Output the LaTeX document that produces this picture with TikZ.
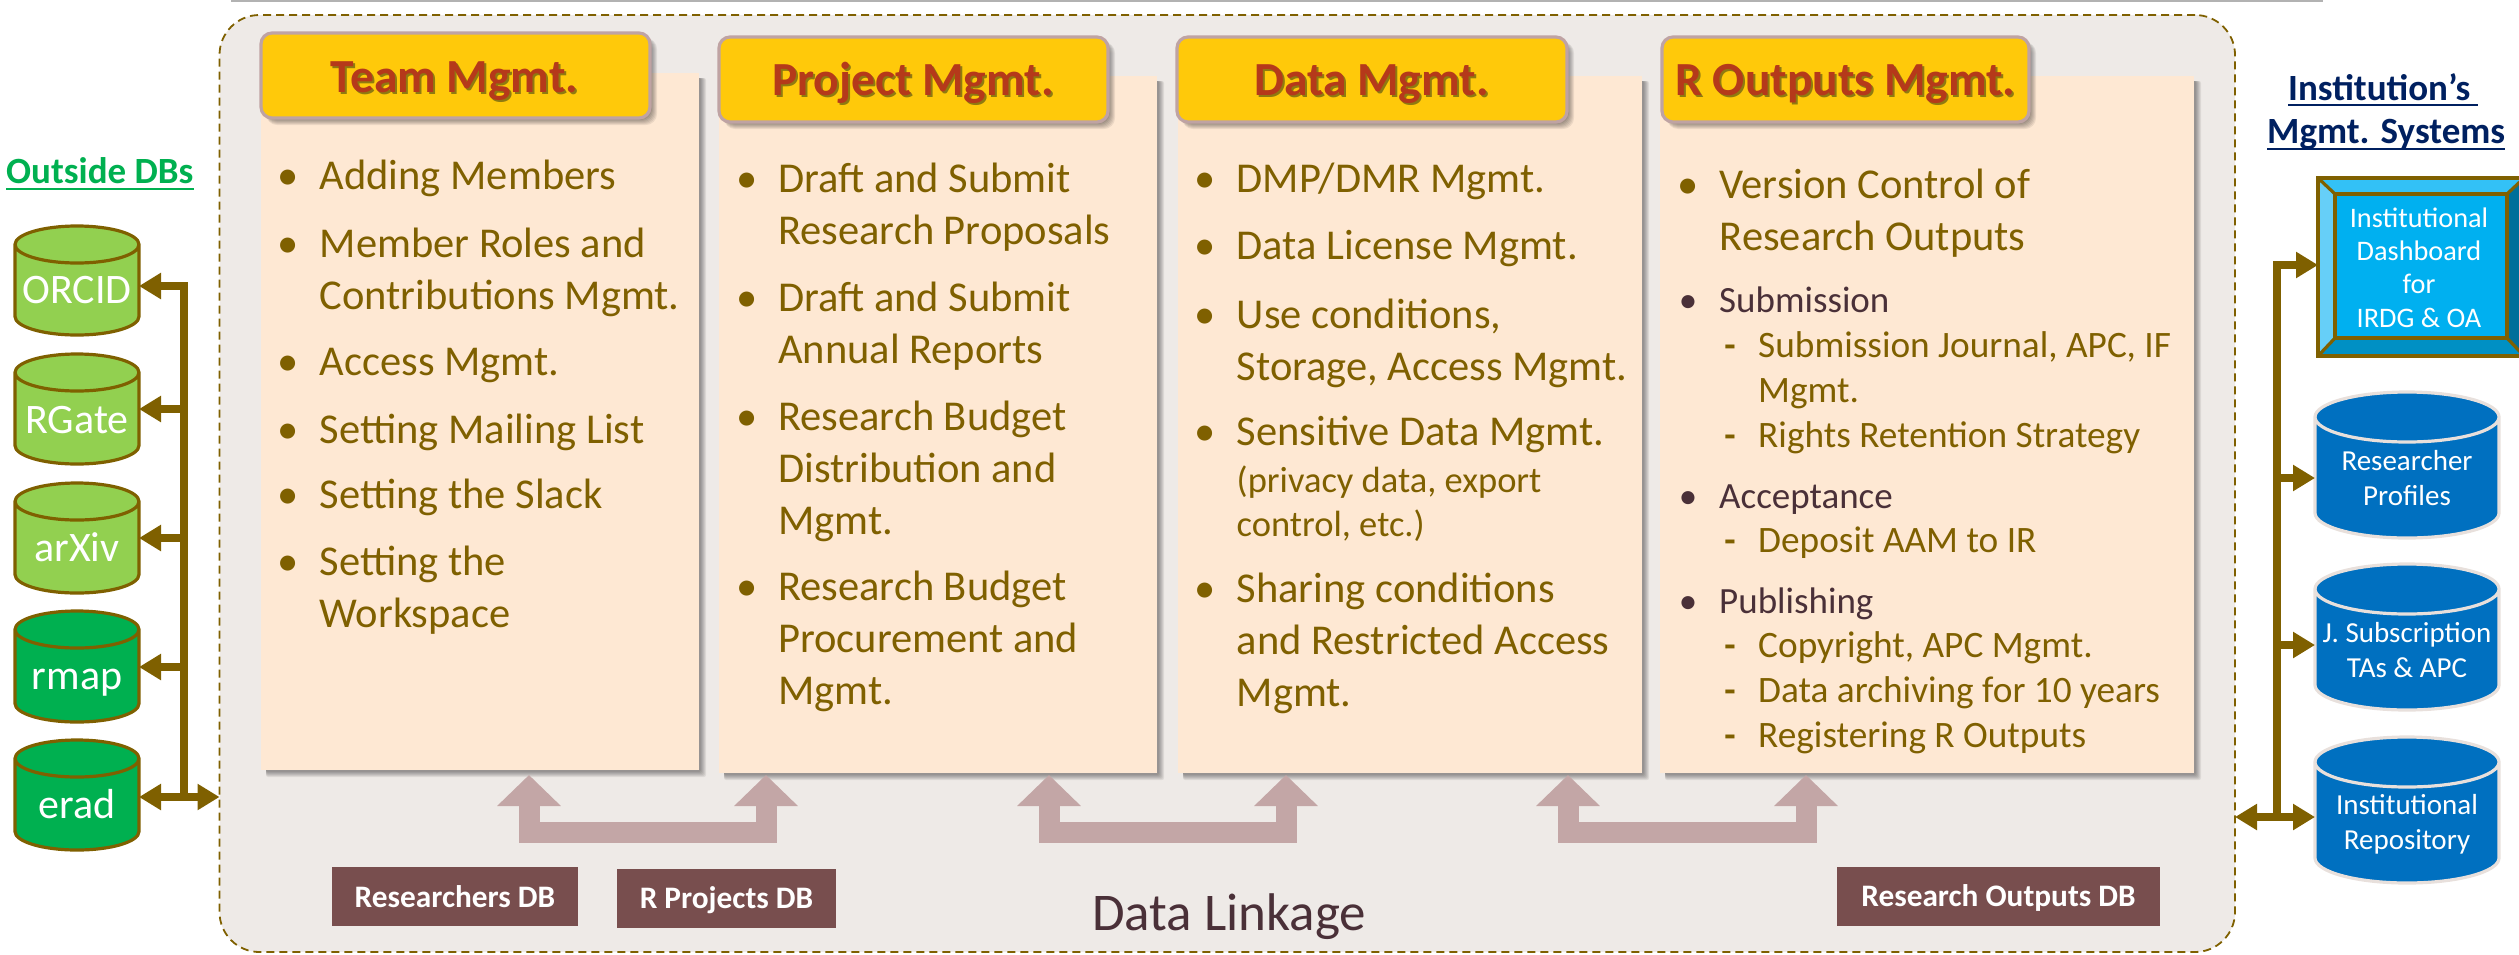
\documentclass[tikz,border=0pt]{standalone}
\usepackage{fontspec}
\setmainfont{Carlito}
\usetikzlibrary{arrows.meta}
\definecolor{olv}{HTML}{7F6000}
\definecolor{panelc}{HTML}{EEEAE7}
\definecolor{cardc}{HTML}{FEE8D3}
\definecolor{ttlc}{HTML}{FFC90A}
\definecolor{ttlb}{HTML}{BFA3A3}
\definecolor{ttlt}{HTML}{B5391A}
\definecolor{ttls}{HTML}{8F7A10}
\definecolor{dk}{HTML}{4A3038}
\definecolor{brn}{HTML}{784E4E}
\definecolor{lnk}{HTML}{C3A6A6}
\definecolor{lg}{HTML}{92D050}
\definecolor{dg}{HTML}{00B050}
\definecolor{blu}{HTML}{0070C0}
\definecolor{bluel}{HTML}{E8E0DC}
\definecolor{navy}{HTML}{002060}
\tikzset{
  panelbox/.style={draw=olv,fill=panelc,line width=1.8pt,dash pattern=on 8pt off 5pt,rounded corners=40pt,inner sep=0pt,outer sep=0pt,anchor=north west},
  cardbox/.style={fill=cardc,draw=none,inner sep=0pt,outer sep=0pt,anchor=north west},
  ttlbox/.style={fill=ttlc,draw=ttlb,line width=3.2pt,rounded corners=11pt,inner sep=0pt,outer sep=0pt,anchor=north west},
  ttltext/.style={text=ttlt,inner sep=0pt,anchor=base,font=\fontsize{47.5}{52}\selectfont\bfseries},
  ttlshade/.style={text=ttls,inner sep=0pt,anchor=base,font=\fontsize{47.5}{52}\selectfont\bfseries},
  big/.style={text=olv,inner sep=0pt,anchor=base west,font=\fontsize{42.5}{52}\selectfont},
  small/.style={text=olv,inner sep=0pt,anchor=base west,font=\fontsize{36.5}{44}\selectfont},
  head/.style={text=dk,inner sep=0pt,anchor=base west,font=\fontsize{37}{45}\selectfont},
  sub/.style={text=olv,inner sep=0pt,anchor=base west,font=\fontsize{37.3}{45}\selectfont},
  bullet/.style={inner sep=0pt,anchor=base},
  dashmark/.style={text=olv,inner sep=0pt,anchor=base,font=\fontsize{37}{45}\selectfont\bfseries},
  cyllabel/.style={text=white,inner sep=0pt,anchor=base,font=\fontsize{42}{50}\selectfont},
  syslabel/.style={text=white,inner sep=0pt,anchor=base,font=\fontsize{29}{35}\selectfont},
  dashlabel/.style={text=white,inner sep=0pt,anchor=base,font=\fontsize{28.3}{33.4}\selectfont},
  shapeonly/.style={inner sep=0pt,outer sep=0pt,anchor=north west},
  dbbox/.style={fill=brn,text=white,inner sep=0pt,outer sep=0pt,anchor=north west},
  dbtext/.style={text=white,inner sep=0pt,anchor=base,font=\fontsize{31.3}{36}\selectfont\bfseries},
  bus/.style={draw=olv,line width=8pt},
  busarrow/.style={draw=olv,line width=8pt,-{Triangle[length=22pt,width=25pt]}},
  linkarrow/.style={draw=lnk,line width=21pt,{Triangle[length=31pt,width=62pt]}-{Triangle[length=31pt,width=62pt]}},
}
\newcounter{tn}
% style, bullet x, text x, baseline, lines
\newcommand\bitem[5]{\stepcounter{tn}%
  \node[#1,bullet] (b\arabic{tn}) at (#2,#4) {•};
  \node[#1] (t\arabic{tn}) at (#3,#4) {\begin{tabular}[t]{@{}l@{}}#5\end{tabular}};}
\newcommand\sitem[2]{\stepcounter{tn}%
  \node[dashmark] (d\arabic{tn}) at (1730,#1) {-};
  \node[sub] (t\arabic{tn}) at (1758,#1) {\begin{tabular}[t]{@{}l@{}}#2\end{tabular}};}
\newcommand\softsh[5]{\foreach \k in {1,...,6}{\fill[black,opacity=.07,rounded corners=#5] (#1+5,#2+5) rectangle (#3+1+\k,#4+1+\k);}}
% name x1 y1 x2 y2
\newcommand\card[5]{\softsh{#2}{#3}{#4}{#5}{2pt}
  \node[cardbox,minimum width={#4-#2},minimum height={#5-#3}] (#1) at (#2,#3) {};}
% id x1 y1 x2 y2 cx baseline text
\newcommand\ttl[8]{\softsh{#2}{#3}{#4}{#5}{11pt}
  \node[ttlbox,minimum width={#4-#2},minimum height={#5-#3}] (#1) at (#2,#3) {};
  \node[ttlshade] (#1s) at (#6+2,#7+2) {#8};
  \node[ttltext] (#1t) at (#6,#7) {#8};}
% name cx top bottom rx ry fill line
\newcommand\cyl[8]{\draw[fill=#7,draw=#8,line width=3.2pt,line join=round]
    (#2-#5,#3+#6) -- (#2-#5,#4-#6) arc[start angle=180,end angle=360,x radius=#5pt,y radius=#6pt]
    -- (#2+#5,#3+#6) arc[start angle=0,end angle=360,x radius=#5pt,y radius=#6pt];
  \node[shapeonly,minimum width={2*#5},minimum height={#4-#3}] (#1) at (#2-#5,#3) {};}
\begin{document}
\begin{tikzpicture}[x=1pt,y=-1pt]
\useasboundingbox (0,0) rectangle (2519,954);
\node[shapeonly,minimum width=2092,minimum height=1.6,fill=black!30] (topline) at (231,0) {};
\node[panelbox,minimum width=2015.5,minimum height=937] (panel) at (219.5,15) {};
% cards
\card{c1}{261}{73}{699}{770}
\card{c2}{719}{76}{1157}{773}
\card{c3}{1178}{76}{1642}{773}
\card{c4}{1660}{76}{2194}{773}
% titles
\ttl{h1}{261}{33}{650}{118}{454.5}{92}{Team Mgmt.}
\ttl{h2}{719}{37}{1108}{122}{913}{95}{Project Mgmt.}
\ttl{h3}{1177}{37}{1567}{122}{1371.5}{95}{Data Mgmt.}
\ttl{h4}{1662}{37}{2029}{122}{1845.5}{95}{R Outputs Mgmt.}
% card 1
\bitem{big}{288}{319.5}{189}{Adding Members}
\bitem{big}{288}{319.5}{257}{Member Roles and\\Contributions Mgmt.}
\bitem{big}{288}{319.5}{375}{Access Mgmt.}
\bitem{big}{288}{319.5}{443}{Setting Mailing List}
\bitem{big}{288}{319.5}{508}{Setting the Slack}
\bitem{big}{288}{319.5}{575}{Setting the\\Workspace}
% card 2
\bitem{big}{747}{778}{192}{Draft and Submit\\Research Proposals}
\bitem{big}{747}{778}{311}{Draft and Submit\\Annual Reports}
\bitem{big}{747}{778}{430}{Research Budget\\Distribution and\\Mgmt.}
\bitem{big}{747}{778}{600}{Research Budget\\Procurement and\\Mgmt.}
% card 3
\bitem{big}{1205}{1236.5}{192}{DMP/DMR Mgmt.}
\bitem{big}{1205}{1236.5}{259}{Data License Mgmt.}
\bitem{big}{1205}{1236.5}{328}{Use conditions,\\Storage, Access Mgmt.}
\bitem{big}{1205}{1236.5}{445}{Sensitive Data Mgmt.}
\node[small] (t3x) at (1236.5,492) {\begin{tabular}[t]{@{}l@{}}(privacy data, export\\control, etc.)\end{tabular}};
\bitem{big}{1205}{1236.5}{602}{Sharing conditions\\and Restricted Access\\Mgmt.}
% card 4
\bitem{big}{1688}{1719.5}{198}{Version Control of\\Research Outputs}
\bitem{head}{1688}{1719}{312}{Submission}
\sitem{357}{Submission Journal, APC, IF\\Mgmt.}
\sitem{447}{Rights Retention Strategy}
\bitem{head}{1688}{1719}{508}{Acceptance}
\sitem{552}{Deposit AAM to IR}
\bitem{head}{1688}{1719}{613}{Publishing}
\sitem{657}{Copyright, APC Mgmt.}
\sitem{702}{Data archiving for 10 years}
\sitem{747}{Registering R Outputs}
% link arrows
\coordinate (l1a) at (529,775); \coordinate (l1b) at (766,775); \coordinate (l1m) at (0,832);
\coordinate (l2a) at (1049,775); \coordinate (l2b) at (1286,775);
\coordinate (l3a) at (1568,775); \coordinate (l3b) at (1806,775);
\draw[linkarrow] (l1a) -- (l1a |- l1m) -- (l1b |- l1m) -- (l1b);
\draw[linkarrow] (l2a) -- (l2a |- l1m) -- (l2b |- l1m) -- (l2b);
\draw[linkarrow] (l3a) -- (l3a |- l1m) -- (l3b |- l1m) -- (l3b);
% DB boxes
\node[dbbox,minimum width=246,minimum height=59] (db1) at (332,867) {};
\node[dbtext] (db1t) at (455,907) {Researchers DB};
\node[dbbox,minimum width=219,minimum height=59] (db2) at (617,869) {};
\node[dbtext] (db2t) at (726.5,908) {R Projects DB};
\node[dbbox,minimum width=323,minimum height=59] (db3) at (1837,867) {};
\node[dbtext] (db3t) at (1998.5,906) {Research Outputs DB};
\node[text=dk,inner sep=0pt,anchor=base west,font=\fontsize{53}{60}\selectfont] (linkage) at (1092,930) {Data Linkage};
% left headers
\node[text=dg,inner sep=0pt,anchor=base west,font=\fontsize{37}{45}\selectfont\bfseries] (outside) at (6,183) {Outside DBs};
\draw[dg,line width=2.4pt] ([yshift=-6pt]outside.base west) -- ([yshift=-6pt]outside.base east);
% left cylinders
\cyl{orcid}{77}{226}{335}{62}{18.5}{lg}{olv}
\cyl{rgate}{77}{354}{464}{62}{18.5}{lg}{olv}
\cyl{arxiv}{77}{483}{593}{62}{18.5}{lg}{olv}
\cyl{rmap}{77}{611}{722}{62}{18.5}{dg}{olv}
\cyl{erad}{77}{740}{850}{62}{18.5}{dg}{olv}
\node[cyllabel] (orcidt) at (77,303) {ORCID};
\node[cyllabel] (rgatet) at (77,433) {RGate};
\node[cyllabel] (arxivt) at (77,561) {arXiv};
\node[cyllabel] (rmapt) at (77,689) {rmap};
\node[cyllabel] (eradt) at (77,818) {erad};
% left bus
\coordinate (lbT) at (183.5,286); \coordinate (lb2) at (183.5,409); \coordinate (lb3) at (183.5,538); \coordinate (lb4) at (183.5,667); \coordinate (lbB) at (183.5,797);
\draw[bus] ([yshift=4pt]lbT) -- ([yshift=-4pt]lbB);
\draw[busarrow] (lbT) -- (lbT -| orcid.east);
\draw[busarrow] (lb2) -- (lb2 -| rgate.east);
\draw[busarrow] (lb3) -- (lb3 -| arxiv.east);
\draw[busarrow] (lb4) -- (lb4 -| rmap.east);
\draw[busarrow] (lbB) -- (lbB -| erad.east);
\draw[busarrow] (lbB) -- (lbB -| panel.west);
% right headers
\node[text=navy,inner sep=0pt,anchor=base west,font=\fontsize{37}{45}\selectfont\bfseries] (inst) at (2288,100) {Institution’s};
\draw[navy,line width=2.4pt] ([yshift=-5pt]inst.base west) -- ([yshift=-5pt,xshift=8pt]inst.base east);
\node[text=navy,inner sep=0pt,anchor=base west,font=\fontsize{37}{45}\selectfont\bfseries] (msys) at (2267,143) {Mgmt. Systems};
\draw[navy,line width=2.4pt] ([yshift=-6pt]msys.base west) -- ([yshift=-6pt]msys.base east);
% dashboard
\begin{scope}
\clip (2300,170) rectangle (2519,365);
\fill[fill={rgb,255:red,51;green,193;blue,246}] (2318,178) -- (2524,178) -- (2507,194) -- (2335,194) -- cycle;
\fill[fill={rgb,255:red,102;green,207;blue,248}] (2318,178) -- (2335,194) -- (2335,338) -- (2318,356) -- cycle;
\fill[fill={rgb,255:red,0;green,111;blue,154}] (2524,178) -- (2507,194) -- (2507,338) -- (2524,356) -- cycle;
\fill[fill={rgb,255:red,0;green,144;blue,196}] (2318,356) -- (2335,338) -- (2507,338) -- (2524,356) -- cycle;
\fill[fill={rgb,255:red,0;green,176;blue,240}] (2335,194) rectangle (2507,338);
\draw[olv,line width=3.2pt] (2318,178) rectangle (2524,356);
\draw[olv,line width=3.2pt] (2335,194) rectangle (2507,338);
\draw[olv,line width=3.2pt] (2318,178) -- (2335,194) (2318,356) -- (2335,338) (2524,178) -- (2507,194) (2524,356) -- (2507,338);
\end{scope}
\node[shapeonly,minimum width=201,minimum height=178] (dashb) at (2318,178) {};
\node[dashlabel] (dasht) at (2419,227) {\begin{tabular}[t]{@{}c@{}}Institutional\\Dashboard\\for\\IRDG \& OA\end{tabular}};
% right cylinders
\cyl{rprof}{2407}{392}{538}{92}{25}{blu}{bluel}
\cyl{jsub}{2407}{564}{710}{92}{25}{blu}{bluel}
\cyl{irep}{2407}{737}{883}{92}{25}{blu}{bluel}
\node[syslabel] (rproft) at (2407,470) {\begin{tabular}[t]{@{}c@{}}Researcher\\Profiles\end{tabular}};
\node[syslabel] (jsubt) at (2407,642) {\begin{tabular}[t]{@{}c@{}}J. Subscription\\TAs \& APC\end{tabular}};
\node[syslabel] (irept) at (2407,814) {\begin{tabular}[t]{@{}c@{}}Institutional\\Repository\end{tabular}};
% right bus
\coordinate (rbT) at (2277,265); \coordinate (rb2) at (2277,478); \coordinate (rb3) at (2277,645); \coordinate (rbB) at (2277,817);
\draw[bus] ([yshift=4pt]rbT) -- ([yshift=-4pt]rbB);
\draw[busarrow] (rbT) -- (rbT -| dashb.west);
\draw[busarrow] (rb2) -- (rb2 -| rprof.west);
\draw[busarrow] (rb3) -- (rb3 -| jsub.west);
\draw[busarrow] (rbB) -- (rbB -| irep.west);
\draw[busarrow] (rbB) -- (rbB -| panel.east);
\end{tikzpicture}
\end{document}
